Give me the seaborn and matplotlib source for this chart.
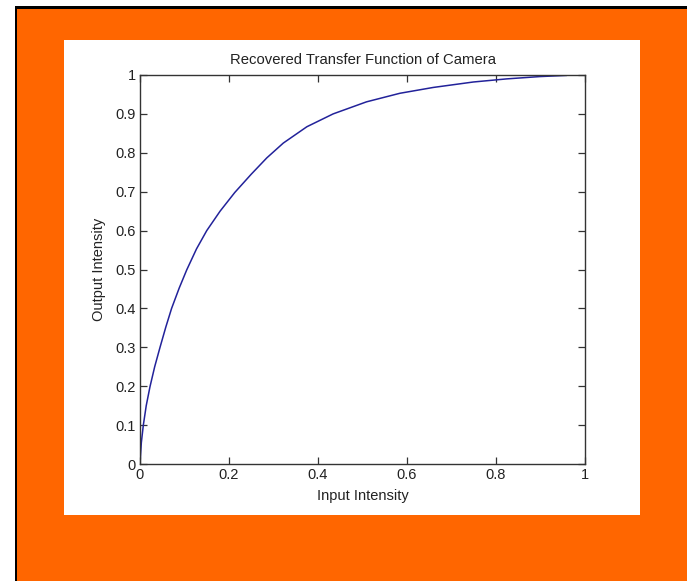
import numpy as np
import pandas as pd
import matplotlib
matplotlib.use("Agg")
import matplotlib.pyplot as plt
import seaborn as sns
from matplotlib.patches import Rectangle

# Data
input_intensity = [0.0, 0.003, 0.0075, 0.014, 0.0225, 0.033, 0.045, 0.058, 0.071, 0.088,
                   0.105, 0.127, 0.15, 0.18, 0.213, 0.25, 0.285, 0.322, 0.375, 0.434,
                   0.509, 0.584, 0.659, 0.749, 0.824, 0.899, 0.959]
output_intensity = [0.0, 0.055, 0.10, 0.15, 0.199, 0.25, 0.30, 0.352, 0.40, 0.452,
                    0.499, 0.553, 0.60, 0.65, 0.698, 0.745, 0.787, 0.825, 0.867, 0.90,
                    0.931, 0.953, 0.968, 0.982, 0.99, 0.996, 0.999]
x_ticks = [0, 0.2, 0.4, 0.6, 0.8, 1]
x_tick_labels = ["0", "0.2", "0.4", "0.6", "0.8", "1"]
y_ticks = [0, 0.1, 0.2, 0.3, 0.4, 0.5, 0.6, 0.7, 0.8, 0.9, 1]
y_tick_labels = ["0", "0.1", "0.2", "0.3", "0.4", "0.5", "0.6", "0.7", "0.8", "0.9", "1"]
title = "Recovered Transfer Function of Camera"
xlabel = "Input Intensity"
ylabel = "Output Intensity"

sns.set_style("ticks")
plt.rcParams['font.family'] = ['Liberation Sans', 'DejaVu Sans']

W, H = 687, 581
fig = plt.figure(figsize=(W / 100, H / 100), dpi=100)
fig.patch.set_facecolor("white")

def frect(x0, y0, x1, y1, color):
    # pixel coords (top-left origin) -> figure coords
    fig.patches.append(Rectangle((x0 / W, 1 - y1 / H), (x1 - x0) / W, (y1 - y0) / H,
                                 transform=fig.transFigure, facecolor=color,
                                 edgecolor="none", zorder=-10))

frect(15, 6, W, H, "black")
frect(17, 9, W, H, "#FF6600")
frect(64, 40, 640, 515, "white")

ax = fig.add_axes([140 / W, 1 - 464 / H, 445 / W, 389 / H])
ax.set_facecolor("white")
df = pd.DataFrame({"x": input_intensity, "y": output_intensity})
sns.lineplot(data=df, x="x", y="y", ax=ax, color="#22229a", linewidth=1.1,
             sort=False, estimator=None)

ax.set_xlim(0, 1)
ax.set_ylim(0, 1)
ax.set_xticks(x_ticks)
ax.set_xticklabels(x_tick_labels)
ax.set_yticks(y_ticks)
ax.set_yticklabels(y_tick_labels)
for s in ax.spines.values():
    s.set_visible(True)
    s.set_color("#333333")
    s.set_linewidth(1.0)
ax.tick_params(direction="in", length=5, width=0.9, color="#333333",
               top=True, right=True, labelsize=10.5, labelcolor="#222222", pad=3)
ax.set_title(title, fontsize=10.7, color="#222222", pad=8)
ax.set_xlabel(xlabel, fontsize=10.5, color="#222222", labelpad=5)
ax.set_ylabel(ylabel, fontsize=10.5, color="#222222", labelpad=7)

fig.savefig("out.png", dpi=100)
